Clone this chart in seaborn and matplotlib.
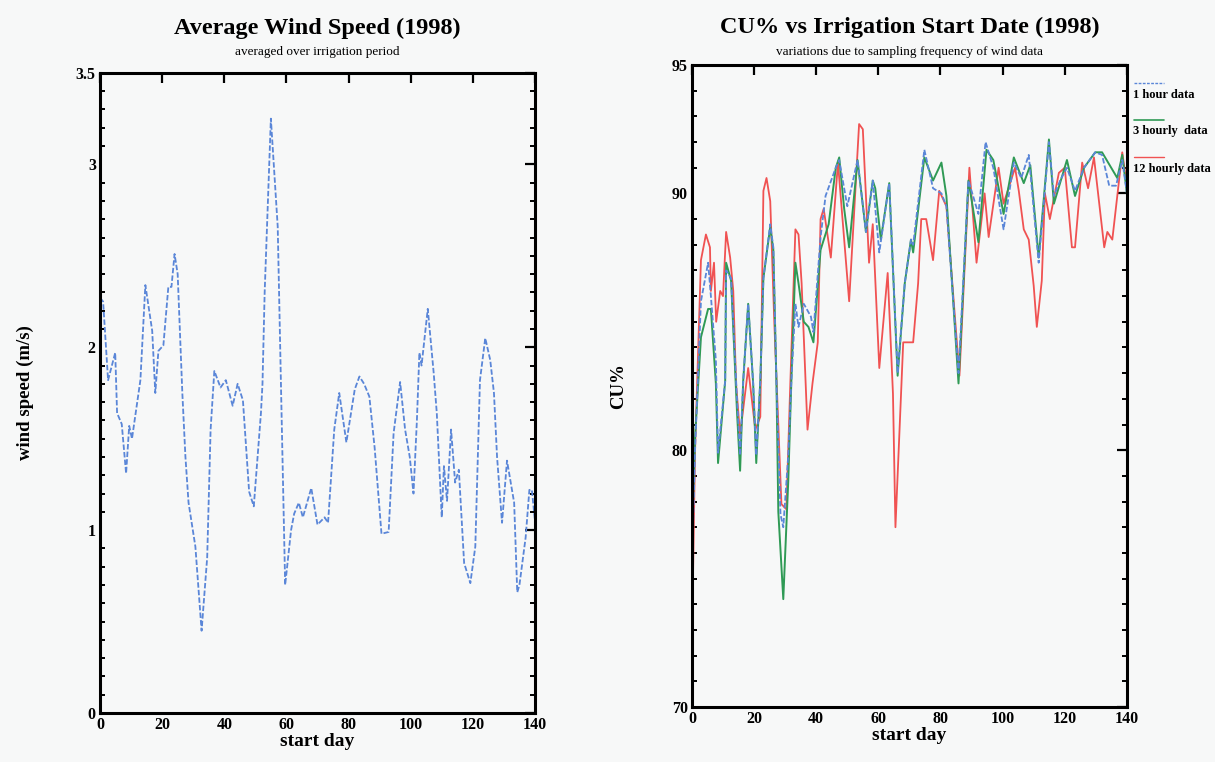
import matplotlib
matplotlib.use("Agg")
import matplotlib.pyplot as plt
from matplotlib.ticker import MultipleLocator, FixedLocator
import seaborn as sns
import pandas as pd

# ---------------- data ----------------
wind_days = [0, 1, 2.6, 4.9, 5.5, 7, 8.4, 9.4, 10.3, 13, 14.6, 16.8, 17.8, 18.8, 20.4, 22, 23, 24, 25,
             26.5, 27.5, 28.5, 30.7, 32.7, 34.5, 35.6, 36.8, 38.8, 40.5, 42.7, 44.3, 46, 48, 49.5, 51.8,
             52.3, 53, 55, 57.2, 58.3, 59.6, 61.5, 62.5, 64, 65.3, 68, 70, 72.3, 73.4, 75.4, 77, 79.3,
             82, 83.5, 85, 86.7, 88.4, 90.6, 92.9, 94.5, 96.6, 98.2, 99.7, 100.9, 102, 102.8, 103.5,
             105.5, 107.4, 108.4, 110, 110.7, 111.7, 113, 114.3, 115.5, 117.2, 119.2, 120.8, 122.3,
             124, 125.6, 126.8, 127.8, 129.4, 131, 133.3, 134.3, 135, 137, 138.2, 139, 140]
wind_speed = [2.27, 2.25, 1.82, 1.97, 1.64, 1.58, 1.31, 1.57, 1.50, 1.82, 2.34, 2.09, 1.75, 1.98, 2.01,
              2.33, 2.33, 2.51, 2.40, 1.75, 1.40, 1.15, 0.91, 0.45, 0.85, 1.55, 1.87, 1.78, 1.82, 1.68,
              1.80, 1.71, 1.21, 1.13, 1.64, 1.80, 2.30, 3.25, 2.66, 1.75, 0.70, 1.00, 1.09, 1.15, 1.07,
              1.23, 1.03, 1.07, 1.04, 1.55, 1.75, 1.48, 1.77, 1.84, 1.80, 1.73, 1.45, 0.98, 0.99, 1.53,
              1.81, 1.55, 1.40, 1.20, 1.60, 1.97, 1.90, 2.21, 1.86, 1.64, 1.07, 1.35, 1.16, 1.55, 1.26,
              1.33, 0.82, 0.71, 0.91, 1.82, 2.05, 1.93, 1.75, 1.40, 1.04, 1.38, 1.15, 0.66, 0.70, 0.96,
              1.22, 1.22, 1.05]

hr3_days = [0, 1, 2.9, 5.2, 6.1, 7.7, 8.4, 10.7, 11, 12.6, 14.5, 15.5, 16.5, 18.1, 19.7, 20.7, 22, 23,
            25.2, 26.2, 27.2, 27.8, 29.4, 31, 32, 33.3, 34.3, 36, 37.5, 39.1, 41.4, 44, 46.3, 47.4, 49,
            50.6, 53.3, 56, 58.2, 59, 60.8, 63.5, 66.2, 68.5, 70.5, 71.2, 74.8, 77.6, 80.3, 81.9, 85.8,
            89, 92.2, 94.8, 97, 100.3, 103.6, 106.8, 108.9, 111.6, 114.9, 116.5, 120.7, 123.3, 126.2,
            129.8, 132, 136.9, 138.5, 140]
hr3_cu = [76.5, 80.5, 84.4, 85.5, 85.5, 82.6, 79.5, 82.7, 87.3, 86.6, 81.5, 79.2, 82.7, 85.7, 82.6, 79.5,
          82.7, 86.7, 88.7, 87.8, 82.6, 77.6, 74.2, 78.8, 82.7, 87.3, 86.5, 85.0, 84.8, 84.2, 87.8, 88.8,
          91.0, 91.4, 89.4, 87.9, 91.3, 88.5, 90.5, 90.2, 88.2, 90.4, 82.9, 86.5, 88.2, 87.7, 91.4, 90.5,
          91.2, 89.9, 82.6, 90.5, 88.1, 91.7, 91.3, 89.2, 91.4, 90.4, 91.1, 87.5, 92.1, 89.6, 91.3, 89.9,
          91.0, 91.6, 91.6, 90.6, 91.5, 90.0]

hr1_days = [0, 1, 2.9, 5.2, 6.1, 7.7, 8.4, 10.7, 11, 12.6, 14.5, 15.5, 16.5, 18.1, 19.7, 20.7, 22, 23,
            25.2, 26.2, 27.2, 28.5, 29.4, 31, 32, 33.3, 34.3, 36, 38.3, 39.1, 41.4, 43, 46.3, 47.4, 50,
            53.3, 56, 58.2, 60.3, 63.5, 66.2, 68.5, 70.5, 71.2, 74.8, 77.6, 80.3, 81.9, 85.8, 89, 92.2,
            94.5, 97, 100.3, 103.6, 106, 108.4, 111.6, 114.9, 116.5, 118.5, 120.7, 123.3, 126.2, 129.8,
            132, 134.3, 136.5, 138.5, 140]
hr1_cu = [75.2, 80.0, 85.8, 87.3, 86.0, 83.5, 79.9, 82.7, 87.0, 86.7, 82.0, 79.8, 82.7, 85.7, 82.6, 79.8,
          82.7, 86.7, 88.8, 87.9, 82.6, 77.5, 77.0, 79.8, 82.7, 85.7, 84.8, 85.7, 85.2, 84.6, 88.3, 89.9,
          91.0, 91.3, 89.5, 91.3, 88.5, 90.5, 87.7, 90.4, 83.0, 86.5, 88.2, 88.0, 91.7, 90.2, 90.0, 89.5,
          83.0, 90.5, 89.2, 92.0, 91.0, 88.6, 91.2, 90.6, 91.5, 87.3, 92.0, 89.9, 90.5, 91.0, 90.1, 91.0,
          91.6, 91.5, 90.3, 90.3, 91.3, 90.0]

hr12_days = [0, 1, 2.9, 4.5, 5.8, 6.1, 7.1, 7.8, 9.1, 10, 11, 12.3, 13.3, 14.2, 15.5, 18.1, 20.4, 22, 23,
             24, 25.2, 26.5, 28.8, 30.4, 31.5, 33.3, 34.3, 35.3, 37.2, 38.8, 40.5, 41.4, 42.4, 44.7, 47,
             50.6, 53.8, 55, 57, 58.2, 60.3, 63, 64.7, 65.5, 68, 71.2, 72.8, 73.8, 75.4, 77.6, 79.6, 81.9,
             86.1, 89.3, 91.6, 94.2, 95.5, 98.7, 100.3, 104, 105.2, 106.8, 108.4, 110, 111, 112.6, 113.6,
             115.2, 118.1, 120, 122.3, 123.3, 125.6, 127.5, 129.4, 132.7, 133.7, 135.3, 138.5, 140]
hr12_cu = [72.5, 80.0, 87.4, 88.4, 87.9, 86.2, 87.3, 85.0, 86.2, 86.0, 88.5, 87.5, 86.2, 82.6, 80.6, 83.2,
           80.8, 81.3, 90.1, 90.6, 89.7, 85.0, 77.9, 77.7, 82.0, 88.6, 88.4, 86.5, 80.8, 82.6, 84.2, 89.0,
           89.4, 87.5, 91.2, 85.8, 92.7, 92.5, 87.3, 88.8, 83.2, 86.9, 82.2, 77.0, 84.2, 84.2, 86.5, 89.0,
           89.0, 87.4, 90.1, 89.5, 82.9, 91.0, 87.3, 90.0, 88.3, 91.0, 89.6, 91.0, 90.1, 88.6, 88.2, 86.4,
           84.8, 86.6, 90.0, 89.0, 90.8, 91.0, 87.9, 87.9, 91.2, 90.2, 91.4, 87.9, 88.5, 88.2, 91.6, 90.3]

series_labels = ["1 hour data", "3 hourly  data", "12 hourly data"]
left_title = "Average Wind Speed (1998)"
left_sub = "averaged over irrigation period"
right_title = "CU% vs Irrigation Start Date (1998)"
right_sub = "variations due to sampling frequency of wind data"

# ---------------- style ----------------
sns.set_theme(style="white")
plt.rcParams["font.family"] = ["Liberation Serif", "DejaVu Serif"]
plt.rcParams["text.color"] = "black"
plt.rcParams["axes.labelcolor"] = "black"
plt.rcParams["xtick.color"] = "black"
plt.rcParams["ytick.color"] = "black"
bg = "#f7f8f8"
fig = plt.figure(figsize=(12.15, 7.62), dpi=100, facecolor=bg)

axL = fig.add_axes([0.0823, 0.0643, 0.358, 0.840], facecolor=bg)
axR = fig.add_axes([0.5695, 0.0722, 0.358, 0.8425], facecolor=bg)

c_blue = "#5a86d8"
c_green = "#2f9a55"
c_red = "#f05252"

dfw = pd.DataFrame({"day": wind_days, "speed": wind_speed})
sns.lineplot(data=dfw, x="day", y="speed", ax=axL, sort=False, estimator=None,
             color=c_blue, lw=1.3, linestyle=(0, (3, 1.2)))

df12 = pd.DataFrame({"day": hr12_days, "cu": hr12_cu})
df3 = pd.DataFrame({"day": hr3_days, "cu": hr3_cu})
df1 = pd.DataFrame({"day": hr1_days, "cu": hr1_cu})
sns.lineplot(data=df12, x="day", y="cu", ax=axR, sort=False, estimator=None, color=c_red, lw=1.3)
sns.lineplot(data=df3, x="day", y="cu", ax=axR, sort=False, estimator=None, color=c_green, lw=1.4)
sns.lineplot(data=df1, x="day", y="cu", ax=axR, sort=False, estimator=None, color=c_blue, lw=1.3,
             linestyle=(0, (3, 1.2)))

for ax in (axL, axR):
    for s in ax.spines.values():
        s.set_linewidth(2.2)
        s.set_color("black")
    ax.set_xlim(0, 140)
    ax.xaxis.set_major_locator(MultipleLocator(20))
    ax.tick_params(axis="both", which="major", direction="in", length=7, width=1.6,
                   top=True, right=True, labelsize=11.5, pad=3, colors="black")
    ax.tick_params(axis="y", which="minor", direction="in", length=3.5, width=1.4,
                   left=True, right=True, colors="black")
    ax.tick_params(axis="x", which="minor", bottom=False, top=False)
    ax.set_xlabel("start day", fontsize=14, fontweight="bold", labelpad=0, color="black")
    for lab in ax.get_xticklabels() + ax.get_yticklabels():
        lab.set_fontweight("bold")

axL.set_ylim(0, 3.5)
axL.yaxis.set_major_locator(FixedLocator([0, 1, 2, 3, 3.5]))
axL.set_yticklabels(["0", "1", "2", "3", "3.5"], fontweight="bold")
axL.yaxis.set_minor_locator(MultipleLocator(0.1))
axL.set_ylabel("wind speed (m/s)", fontsize=13.5, fontweight="bold", labelpad=30, color="black")

axR.set_ylim(70, 95)
axR.yaxis.set_major_locator(FixedLocator([70, 80, 90, 95]))
axR.set_yticklabels(["70", "80", "90", "95"], fontweight="bold")
axR.yaxis.set_minor_locator(MultipleLocator(1))
axR.set_ylabel("CU%", fontsize=13.5, fontweight="bold", labelpad=32, color="black")

# titles
axL.text(0.5, 1.07, left_title, transform=axL.transAxes, ha="center", va="center",
         fontsize=17.5, fontweight="bold", color="black")
axL.text(0.5, 1.033, left_sub, transform=axL.transAxes, ha="center", va="center", fontsize=9.5,
         color="black")
axR.text(0.5, 1.058, right_title, transform=axR.transAxes, ha="center", va="center",
         fontsize=17.5, fontweight="bold", color="black")
axR.text(0.5, 1.02, right_sub, transform=axR.transAxes, ha="center", va="center", fontsize=9.5,
         color="black")

# legend (line sample above label, as in the original)
leg_styles = [dict(color=c_blue, lw=1.0, linestyle=(0, (2, 1))),
              dict(color=c_green, lw=1.2, linestyle="-"),
              dict(color=c_red, lw=1.0, linestyle="-")]
leg_line_y = [0.972, 0.914, 0.857]
leg_text_y = [0.953, 0.897, 0.838]
for lab, st, ly, ty in zip(series_labels, leg_styles, leg_line_y, leg_text_y):
    axR.plot([1.016, 1.085], [ly, ly], transform=axR.transAxes, clip_on=False, **st)
    axR.text(1.014, ty, lab, transform=axR.transAxes, ha="left", va="center", fontsize=9,
             fontweight="bold", color="black")

fig.savefig("out.png", dpi=100, facecolor=bg)
